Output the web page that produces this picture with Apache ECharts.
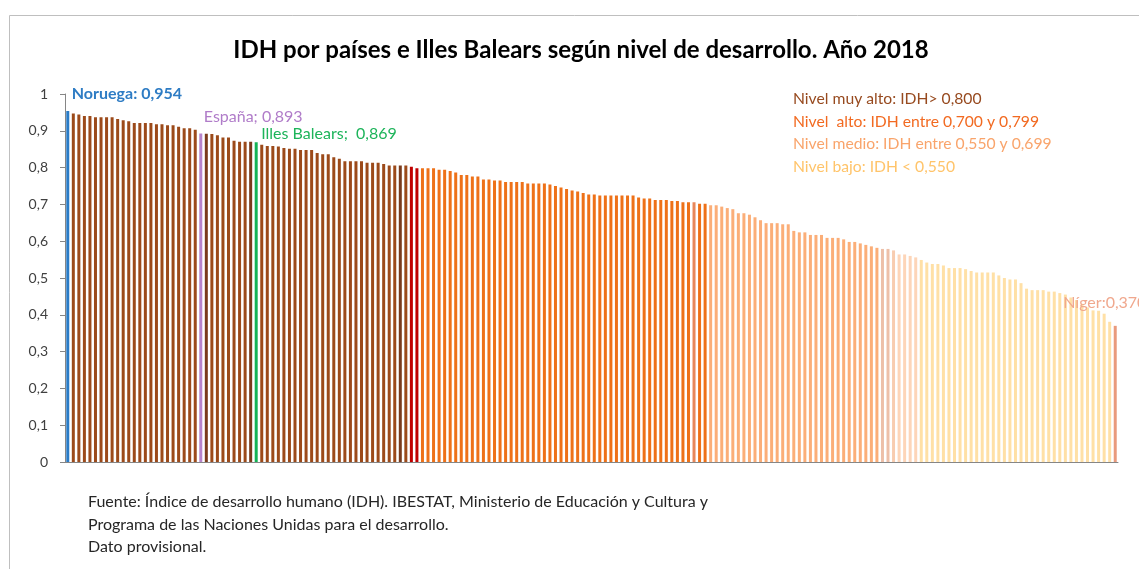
<!DOCTYPE html>
<html>
<head>
<meta charset="utf-8">
<script src="https://cdn.jsdelivr.net/npm/echarts@6/dist/echarts.min.js"></script>
<style>
html,body{margin:0;padding:0;background:#fff;}
#idh{width:1139px;height:569px;}
</style>
</head>
<body>
<div id="idh"></div>
<script>
// IDH 2018, ordenado de mayor a menor
var valores = [
    0.954,0.947,0.944,0.940,0.940,0.937,0.937,0.937,0.937,0.932,
    0.929,0.926,0.921,0.921,0.921,0.921,0.918,0.918,0.915,0.915,
    0.911,0.907,0.907,0.903,0.893,0.892,0.891,0.888,0.882,0.882,
    0.873,0.870,0.870,0.870,0.869,0.862,0.859,0.859,0.857,0.853,
    0.851,0.851,0.848,0.848,0.848,0.840,0.836,0.836,0.828,0.824,
    0.817,0.817,0.817,0.817,0.813,0.813,0.813,0.810,0.806,0.806,
    0.806,0.806,0.802,0.798,0.798,0.798,0.798,0.794,0.794,0.791,
    0.787,0.780,0.780,0.776,0.776,0.768,0.768,0.765,0.765,0.761,
    0.761,0.761,0.761,0.757,0.757,0.757,0.757,0.754,0.750,0.746,
    0.742,0.738,0.735,0.731,0.727,0.727,0.724,0.724,0.724,0.724,
    0.724,0.724,0.724,0.719,0.716,0.716,0.712,0.712,0.712,0.709,
    0.709,0.706,0.706,0.706,0.702,0.702,0.698,0.698,0.694,0.690,
    0.687,0.676,0.676,0.672,0.665,0.657,0.649,0.649,0.649,0.646,
    0.646,0.628,0.624,0.624,0.617,0.617,0.617,0.609,0.609,0.609,
    0.605,0.598,0.598,0.594,0.590,0.586,0.582,0.579,0.579,0.575,
    0.564,0.564,0.560,0.556,0.549,0.542,0.538,0.538,0.534,0.527,
    0.527,0.527,0.524,0.519,0.515,0.515,0.515,0.515,0.507,0.500,
    0.496,0.496,0.486,0.471,0.467,0.467,0.467,0.463,0.463,0.459,
    0.455,0.447,0.440,0.430,0.420,0.412,0.411,0.403,0.381,0.370
];

// paises con etiqueta (posicion en el ranking -> nombre)
var paises = {0:'Noruega', 24:'España', 34:'Illes Balears', 189:'Níger'};
var separadores = {0:': ', 24:'; ', 34:';  ', 189:':'};

var ticksY = ['0','0,1','0,2','0,3','0,4','0,5','0,6','0,7','0,8','0,9','1'];

var titulo = 'IDH por países e Illes Balears según nivel de desarrollo. Año 2018';
var niveles = [
    'Nivel muy alto: IDH> 0,800',
    'Nivel  alto: IDH entre 0,700 y 0,799',
    'Nivel medio: IDH entre 0,550 y 0,699',
    'Nivel bajo: IDH < 0,550'
];
var fuente = [
    'Fuente: Índice de desarrollo humano (IDH). IBESTAT, Ministerio de Educación y Cultura y',
    'Programa de las Naciones Unidas para el desarrollo.',
    'Dato provisional.'
];

var FONT = 'Lato';
var coloresNivel = ['#9C4A1A','#EE7118','#FBAE78','#FFE0A6'];
var coloresTextoNivel = ['#974A1F','#F26A21','#F9A46B','#FFC46A'];

// barras resaltadas (indice -> color)
var resaltados = {
    0:'#2A7CC7', 24:'#B784CC', 25:'#7A3B1C', 33:'#7A3B1C', 34:'#14B356',
    60:'#7A3B1C', 62:'#C00000', 63:'#C00000', 113:'#E8875A',
    147:'#EDBFA8', 148:'#EDBFA8', 149:'#F8CCAF',
    150:'#FDD5B8', 151:'#FDD5B8', 152:'#FDD5B8', 153:'#FDD5B8',
    189:'#E99A7C'
};

var estiloEtiqueta = {
    0:  {color:'#2E7CC4', fontWeight:'bold', offset:[4,-9]},
    24: {color:'#B07CC9', fontWeight:'normal', offset:[3,-9]},
    34: {color:'#1DB45A', fontWeight:'normal', offset:[5,0]},
    189:{color:'#F0A88E', fontWeight:'normal', offset:[-52,-15]}
};

function nivel(v) {
    if (v > 0.8) return 0;
    if (v >= 0.7) return 1;
    if (v >= 0.55) return 2;
    return 3;
}

function fmt(v) {
    return v.toFixed(3).replace('.', ',');
}

var categorias = [];
var barras = [];
for (var i = 0; i < valores.length; i++) {
    categorias.push(paises[i] || String(i + 1));
    var item = {
        value: valores[i],
        itemStyle: {color: resaltados[i] || coloresNivel[nivel(valores[i])]}
    };
    if (paises[i]) {
        var e = estiloEtiqueta[i];
        item.label = {
            show: true,
            position: 'top',
            distance: 0,
            align: 'left',
            offset: e.offset,
            formatter: paises[i] + separadores[i] + fmt(valores[i]),
            color: e.color,
            fontWeight: e.fontWeight,
            fontSize: 16,
            fontFamily: FONT
        };
    }
    barras.push(item);
}

var graficos = [
    {
        type: 'rect',
        silent: true,
        z: -10,
        shape: {x: 9.5, y: 15.5, width: 1200, height: 600},
        style: {fill: 'none', stroke: '#bfbfbf', lineWidth: 1}
    }
];
niveles.forEach(function (t, k) {
    graficos.push({
        type: 'text',
        left: 793,
        top: 91 + k * 22.5,
        style: {text: t, fill: coloresTextoNivel[k], fontSize: 15.7, fontFamily: FONT}
    });
});
fuente.forEach(function (t, k) {
    graficos.push({
        type: 'text',
        left: 88,
        top: 494 + k * 22.5,
        style: {text: t, fill: '#262626', fontSize: 16, fontFamily: FONT}
    });
});

var option = {
    animation: false,
    title: {
        text: titulo,
        left: 576,
        top: 33,
        textAlign: 'center',
        textStyle: {fontFamily: FONT, fontWeight: 'bold', fontSize: 24, color: '#000'}
    },
    grid: {left: 65, right: 21, top: 94, bottom: 107},
    xAxis: {
        type: 'category',
        data: categorias,
        axisLine: {lineStyle: {color: '#868686'}},
        axisTick: {show: false},
        axisLabel: {show: false}
    },
    yAxis: {
        type: 'value',
        min: 0,
        max: 1,
        interval: 0.1,
        splitLine: {show: false},
        axisLine: {show: true, lineStyle: {color: '#868686'}},
        axisTick: {show: true, length: 5, lineStyle: {color: '#868686'}},
        axisLabel: {
            margin: 17,
            color: '#404040',
            fontSize: 14,
            fontFamily: FONT,
            formatter: function (v) { return ticksY[Math.round(v * 10)]; }
        }
    },
    series: [
        {
            type: 'bar',
            barWidth: 3,
            silent: true,
            data: barras
        }
    ],
    graphic: graficos
};

var grafico = echarts.init(document.getElementById('idh'));
grafico.setOption(option);
</script>
</body>
</html>
